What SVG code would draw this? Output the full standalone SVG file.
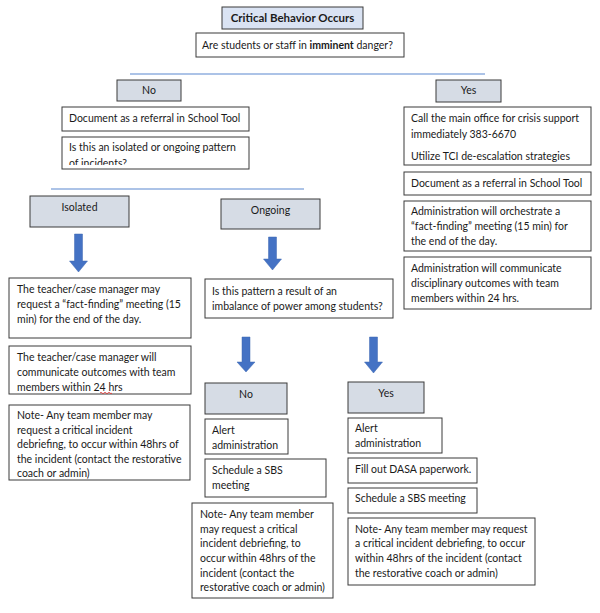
<svg xmlns="http://www.w3.org/2000/svg" width="600" height="613" viewBox="0 0 600 613">
<style>
  text { font-family: Lato, "Liberation Sans", sans-serif; font-size: 10.5px; fill: #1a1a1a; }
  .b { font-weight: bold; }
  .c { text-anchor: middle; }
  .box { fill: #ffffff; stroke: #3a3a3a; stroke-width: 1; }
  .hd { fill: #d6dce5; stroke: #3a3a3a; stroke-width: 1; }
  .title { fill: #dae3f3; stroke: #3a3a3a; stroke-width: 1; }
  .rule { stroke: #5b87d0; stroke-width: 1.2; fill: none; }
  .arrow { fill: #4472c4; stroke: #3f68b3; stroke-width: 0.5; }
</style>
<defs>
  <clipPath id="clipIso"><rect x="62" y="137" width="187" height="28"/></clipPath>
</defs>
<rect width="600" height="613" fill="#ffffff"/>

<g id="connectors">
  <line class="rule" x1="130" y1="74" x2="485" y2="74"/>
  <line class="rule" x1="51" y1="189" x2="304" y2="189"/>
  <path class="arrow" d="M74.5,234 H82.5 V261 H87.5 L78.5,272 L69.5,261 H74.5 Z"/>
  <path class="arrow" d="M268.5,237 H276.5 V259 H281.5 L272.5,270 L263.5,259 H268.5 Z"/>
  <path class="arrow" d="M242,337 H250 V362 H255 L246,372 L237,362 H242 Z"/>
  <path class="arrow" d="M369.5,337 H377.5 V362 H382.5 L373.5,373 L364.5,362 H369.5 Z"/>
</g>

<g id="n-title">
  <rect class="title" x="222" y="7" width="141" height="22"/>
  <text class="b c" x="292.5" y="22" style="font-size:11.5px">Critical Behavior Occurs</text>
</g>
<g id="n-danger">
  <rect class="box" x="196" y="33" width="208" height="24"/>
  <text x="202" y="49">Are students or staff in <tspan class="b">imminent</tspan> danger?</text>
</g>
<g id="n-no">
  <rect class="hd" x="117" y="80" width="64" height="21"/>
  <text class="c" x="149" y="94">No</text>
</g>
<g id="n-yes">
  <rect class="hd" x="436" y="80" width="65" height="22"/>
  <text class="c" x="468.5" y="94">Yes</text>
</g>

<g id="n-doc-left">
  <rect class="box" x="62" y="107" width="187" height="24"/>
  <text x="69" y="122">Document as a referral in School Tool</text>
</g>
<g id="n-pattern">
  <rect class="box" x="62" y="137" width="187" height="32"/>
  <g clip-path="url(#clipIso)">
    <text x="69" y="151">Is this an isolated or ongoing pattern</text>
    <text x="69" y="167">of incidents?</text>
  </g>
</g>
<g id="n-isolated">
  <rect class="hd" x="30" y="196" width="99" height="31"/>
  <text class="c" x="79.5" y="211">Isolated</text>
</g>
<g id="n-ongoing">
  <rect class="hd" x="221" y="199" width="99" height="30"/>
  <text class="c" x="270.5" y="214">Ongoing</text>
</g>

<g id="n-call">
  <rect class="box" x="404" y="107" width="187" height="58"/>
  <text x="411" y="122">Call the main office for crisis support</text>
  <text x="411" y="138">immediately 383-6670</text>
  <text x="411" y="160">Utilize TCI de-escalation strategies</text>
</g>
<g id="n-doc-right">
  <rect class="box" x="404" y="172" width="187" height="23"/>
  <text x="411" y="187">Document as a referral in School Tool</text>
</g>
<g id="n-orchestrate">
  <rect class="box" x="404" y="201" width="187" height="50"/>
  <text x="411" y="215">Administration will orchestrate a</text>
  <text x="411" y="230">“fact-finding” meeting (15 min) for</text>
  <text x="411" y="245">the end of the day.</text>
</g>
<g id="n-communicate">
  <rect class="box" x="404" y="257" width="187" height="52"/>
  <text x="411" y="272">Administration will communicate</text>
  <text x="411" y="287">disciplinary outcomes with team</text>
  <text x="411" y="302">members within 24 hrs.</text>
</g>

<g id="n-teacher-meeting">
  <rect class="box" x="9" y="278" width="182" height="60"/>
  <text x="17" y="293">The teacher/case manager may</text>
  <text x="17" y="308">request a “fact-finding” meeting (15</text>
  <text x="17" y="323">min) for the end of the day.</text>
</g>
<g id="n-teacher-communicate">
  <rect class="box" x="9" y="346" width="182" height="48"/>
  <text x="17" y="361">The teacher/case manager will</text>
  <text x="17" y="376">communicate outcomes with team</text>
  <text x="17" y="391">members within 24 hrs</text>
  <path d="M100,393 q1,-1.5 2,0 t2,0 t2,0 t2,0 t2,0 t2,0" fill="none" stroke="#e03030" stroke-width="0.8"/>
</g>
<g id="n-note-left">
  <rect class="box" x="9" y="405" width="181" height="75"/>
  <text x="17" y="419">Note- Any team member may</text>
  <text x="17" y="434">request a critical incident</text>
  <text x="17" y="448">debriefing, to occur within 48hrs of</text>
  <text x="17" y="463">the incident (contact the restorative</text>
  <text x="17" y="477">coach or admin)</text>
</g>

<g id="n-imbalance">
  <rect class="box" x="205" y="279" width="188" height="39"/>
  <text x="212" y="295">Is this pattern a result of an</text>
  <text x="212" y="310">imbalance of power among students?</text>
</g>
<g id="n-no-mid">
  <rect class="hd" x="205" y="383" width="82" height="31"/>
  <text class="c" x="246" y="398">No</text>
</g>
<g id="n-alert-no">
  <rect class="box" x="205" y="419" width="83" height="35"/>
  <text x="212" y="434">Alert</text>
  <text x="212" y="449">administration</text>
</g>
<g id="n-sbs-no">
  <rect class="box" x="205" y="459" width="121" height="38"/>
  <text x="212" y="474">Schedule a SBS</text>
  <text x="212" y="489">meeting</text>
</g>
<g id="n-note-mid">
  <rect class="box" x="192" y="503" width="141" height="95"/>
  <text x="200" y="518">Note- Any team member</text>
  <text x="200" y="533">may request a critical</text>
  <text x="200" y="547">incident debriefing, to</text>
  <text x="200" y="562">occur within 48hrs of the</text>
  <text x="200" y="577">incident (contact the</text>
  <text x="200" y="591">restorative coach or admin)</text>
</g>

<g id="n-yes-mid">
  <rect class="hd" x="348" y="382" width="76" height="31"/>
  <text class="c" x="386" y="397">Yes</text>
</g>
<g id="n-alert-yes">
  <rect class="box" x="348" y="418" width="94" height="35"/>
  <text x="355" y="432">Alert</text>
  <text x="355" y="447">administration</text>
</g>
<g id="n-dasa">
  <rect class="box" x="348" y="458" width="129" height="25"/>
  <text x="355" y="473">Fill out DASA paperwork.</text>
</g>
<g id="n-sbs-yes">
  <rect class="box" x="348" y="488" width="129" height="25"/>
  <text x="355" y="502">Schedule a SBS meeting</text>
</g>
<g id="n-note-right">
  <rect class="box" x="348" y="518" width="187" height="67"/>
  <text x="355" y="533">Note- Any team member may request</text>
  <text x="355" y="547">a critical incident debriefing, to occur</text>
  <text x="355" y="562">within 48hrs of the incident (contact</text>
  <text x="355" y="577">the restorative coach or admin)</text>
</g>
</svg>
